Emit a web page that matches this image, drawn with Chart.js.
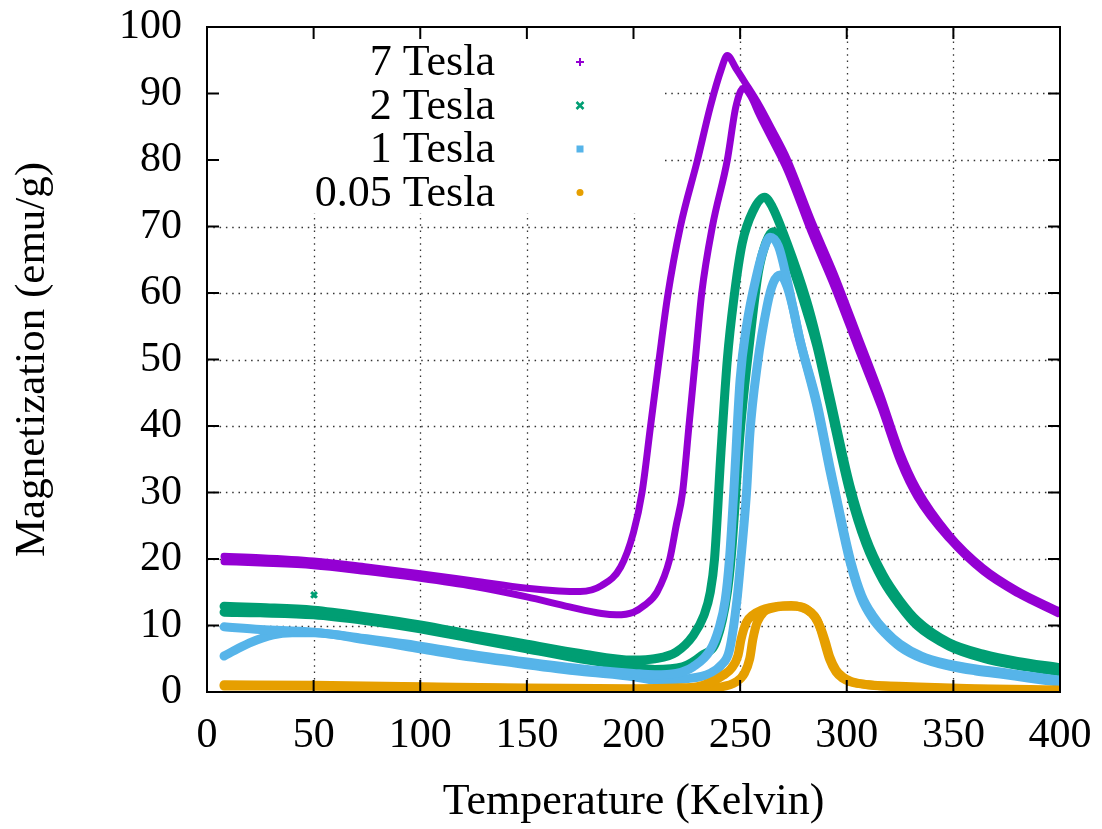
<!DOCTYPE html>
<html>
<head>
<meta charset="utf-8">
<title>Magnetization vs Temperature</title>
<script src="https://cdn.jsdelivr.net/npm/chart.js@4.4.0/dist/chart.umd.min.js"></script>
<style>
  html, body { margin: 0; padding: 0; background: #fff; }
  #wrap { width: 1102px; height: 829px; }
</style>
</head>
<body>
<div id="wrap"><canvas id="mt-chart"></canvas></div>
<script>
// M(T) loops, two sweeps per field (a = outer loop, b = inner loop)
const t7a = [8, 25, 50, 75, 100, 125, 150, 165, 175, 185, 194, 200, 204, 208, 212, 216, 222, 230, 236, 241, 244, 248, 252, 259, 265, 272, 284, 294, 306, 316, 325, 333, 348, 364, 380, 399];
const m7a = [20.4, 20.2, 19.7, 18.8, 17.8, 16.7, 15.6, 15.2, 15.1, 16.0, 18.8, 24.0, 30.0, 40.0, 50.0, 59.5, 70.0, 80.0, 88.0, 93.5, 95.7, 93.8, 91.8, 88.2, 84.6, 80.2, 70.5, 63.0, 53.0, 44.6, 36.2, 30.6, 23.7, 18.7, 15.3, 12.3];
const t7b = [8, 25, 50, 75, 100, 125, 150, 170, 185, 192, 200, 205, 211, 217, 220, 223, 226, 229, 232, 237, 244, 248, 251.5, 255, 259, 265, 272, 284, 294, 306, 316, 325, 333, 348, 364, 380, 399];
const m7b = [19.6, 19.4, 19.0, 18.1, 17.1, 15.9, 14.3, 12.8, 11.8, 11.6, 12.0, 13.0, 15.0, 20.0, 25.0, 30.0, 40.0, 50.0, 60.0, 70.0, 80.0, 88.0, 90.8, 89.6, 86.8, 83.0, 78.5, 68.6, 61.0, 51.0, 42.8, 34.6, 29.3, 23.0, 18.1, 14.8, 11.8];

const t2a = [8, 25, 50, 75, 100, 125, 150, 175, 200, 210, 220, 228, 233, 236, 238, 241, 244, 247, 251, 256, 261.5, 265, 272, 281, 286, 292, 301.5, 309, 317, 325, 333, 348, 364, 380, 399];
const m2a = [12.9, 12.7, 12.3, 11.3, 10.1, 8.6, 7.2, 5.8, 4.8, 5.0, 6.0, 8.5, 11.5, 15.0, 20.0, 36.0, 50.0, 59.0, 67.5, 72.3, 74.4, 73.0, 67.5, 59.0, 53.0, 44.5, 31.0, 23.2, 17.6, 13.7, 10.7, 7.4, 5.7, 4.6, 3.7];
const t2b = [8, 25, 50, 75, 100, 125, 150, 175, 200, 210, 223, 232, 239, 244, 246, 250, 254.6, 258.5, 262, 265.4, 270, 275, 281, 286, 292, 301.5, 309, 317, 325, 333, 348, 364, 380, 399];
const m2b = [12.0, 11.9, 11.6, 10.7, 9.5, 8.0, 6.5, 5.0, 3.8, 3.4, 3.8, 5.5, 7.8, 15.0, 21.0, 39.0, 53.0, 63.0, 67.5, 69.2, 67.3, 63.5, 57.5, 52.0, 43.5, 30.0, 22.3, 16.8, 13.0, 10.0, 6.9, 5.1, 4.0, 3.1];
const t2stray = [50.2];
const m2stray = [14.6];

const t1a = [8, 25, 50, 75, 100, 125, 150, 175, 200, 210, 220, 228, 236, 240, 243, 245, 247, 250, 253, 258, 261, 264, 268, 272, 278, 286, 292, 298, 302, 307, 312, 318, 325, 335, 348, 360, 372, 385, 399];
const m1a = [9.8, 9.4, 9.0, 8.0, 6.9, 5.6, 4.5, 3.5, 2.8, 2.6, 2.8, 3.8, 6.3, 9.5, 13.8, 20.0, 30.0, 47.0, 55.0, 63.0, 66.5, 68.4, 67.0, 62.0, 53.0, 43.5, 34.0, 25.0, 19.5, 14.5, 11.6, 9.2, 7.2, 5.4, 4.2, 3.5, 3.0, 2.4, 1.8];
const t1b = [8, 15, 20, 31, 40, 50, 75, 100, 125, 150, 175, 200, 210, 225, 236, 241, 245, 248.5, 250, 253, 254.6, 258, 262.6, 265.5, 268.7, 272, 275, 278, 286, 292, 298, 302, 307, 312, 318, 325, 335, 348, 360, 372, 385, 399];
const m1b = [5.4, 6.6, 7.4, 8.6, 8.9, 8.9, 7.8, 6.5, 5.2, 4.1, 3.1, 2.3, 1.8, 2.0, 2.8, 4.0, 6.3, 13.8, 18.8, 30.0, 39.0, 49.0, 58.0, 61.5, 62.7, 61.0, 57.5, 53.0, 43.0, 33.5, 24.5, 19.0, 14.0, 11.1, 8.8, 6.8, 5.1, 3.9, 3.2, 2.7, 2.1, 1.5];

const t005a = [8, 50, 100, 150, 200, 220, 230, 236, 242, 246, 249, 250.5, 253, 256, 260, 264, 268, 274, 279, 283, 286, 288, 290, 292, 295, 298, 302, 310, 330, 360, 399];
const m005a = [1.1, 1.0, 0.8, 0.6, 0.5, 0.6, 0.8, 1.4, 2.5, 3.6, 5.5, 8.0, 10.5, 11.6, 12.3, 12.7, 12.9, 13.0, 12.7, 12.0, 10.9, 9.2, 7.0, 4.9, 3.0, 2.1, 1.5, 1.1, 0.8, 0.5, 0.3];
const t005b = [8, 50, 100, 150, 200, 225, 240, 248, 252, 254.5, 256, 258, 261, 265, 270, 276, 281, 285, 288, 290, 292, 295, 298, 302, 310, 330, 360, 399];
const m005b = [0.9, 0.85, 0.7, 0.5, 0.35, 0.4, 0.7, 1.5, 2.8, 5.0, 8.0, 10.5, 12.0, 12.6, 12.9, 12.9, 12.5, 11.3, 9.4, 7.5, 5.3, 3.3, 2.3, 1.6, 1.1, 0.7, 0.4, 0.2];

const fieldLabels = ['7 Tesla', '2 Tesla', '1 Tesla', '0.05 Tesla'];
const fieldColors = ['#9400d3', '#009e73', '#56b4e9', '#e69f00'];
const xTicks = [0, 50, 100, 150, 200, 250, 300, 350, 400];
const yTicks = [0, 10, 20, 30, 40, 50, 60, 70, 80, 90, 100];
const xTitle = 'Temperature (Kelvin)';
const yTitle = 'Magnetization (emu/g)';

const FONT = '"Liberation Serif", "Times New Roman", serif';

const series = [
    {branches: [[t7a, m7a], [t7b, m7b]], width: 7},
    {branches: [[t2a, m2a], [t2b, m2b]], width: 9},
    {branches: [[t1a, m1a], [t1b, m1b]], width: 9},
    {branches: [[t005a, m005a], [t005b, m005b]], width: 9}
];

function pairs(ts, ms) {
    return ts.map((t, i) => ({x: t, y: ms[i]}));
}

let datasets = [];
series.forEach((s, k) => {
    s.branches.forEach(b => {
        datasets.push({
            label: fieldLabels[k],
            data: pairs(b[0], b[1]),
            showLine: true,
            borderColor: fieldColors[k],
            borderWidth: s.width,
            borderCapStyle: 'round',
            borderJoinStyle: 'round',
            cubicInterpolationMode: 'monotone',
            pointRadius: 0,
            order: series.length - k
        });
    });
});

// single outlier reading in the 2 T run
datasets.push({
    label: fieldLabels[1],
    data: pairs(t2stray, m2stray),
    showLine: false,
    pointStyle: 'crossRot',
    pointRadius: 4,
    borderWidth: 3,
    borderColor: fieldColors[1],
    order: 3
});

// key box (gnuplot blanks the grid behind it), in pixels from the top-left of the plot
const keyBox = {w: 458, h: 186};

const gnuplotFrame = {
    id: 'gnuplotFrame',
    beforeDatasetsDraw(chart) {
        const {ctx, chartArea: a, scales: {x, y}} = chart;
        const keyRight = a.left + keyBox.w;
        const keyBottom = a.top + keyBox.h;
        ctx.save();
        ctx.strokeStyle = '#333';
        ctx.lineWidth = 1.3;
        ctx.setLineDash([1.5, 4.8]);
        xTicks.slice(1, -1).forEach(v => {
            let px = Math.round(x.getPixelForValue(v)) + 0.5;
            let top = px < keyRight ? keyBottom : a.top;
            ctx.beginPath();
            ctx.moveTo(px, a.bottom);
            ctx.lineTo(px, top);
            ctx.stroke();
        });
        yTicks.slice(1, -1).forEach(v => {
            let py = Math.round(y.getPixelForValue(v)) + 0.5;
            let left = py < keyBottom ? keyRight : a.left;
            ctx.beginPath();
            ctx.moveTo(left, py);
            ctx.lineTo(a.right, py);
            ctx.stroke();
        });
        ctx.restore();
    },
    afterDatasetsDraw(chart) {
        const {ctx, chartArea: a, scales: {x, y}} = chart;
        ctx.save();
        ctx.strokeStyle = '#000';
        ctx.lineWidth = 2;
        ctx.setLineDash([]);
        ctx.strokeRect(a.left, a.top, a.right - a.left, a.bottom - a.top);

        // inward ticks on all four sides
        const tl = 12;
        ctx.beginPath();
        xTicks.forEach(v => {
            let px = x.getPixelForValue(v);
            ctx.moveTo(px, a.bottom); ctx.lineTo(px, a.bottom - tl);
            ctx.moveTo(px, a.top); ctx.lineTo(px, a.top + tl);
        });
        yTicks.forEach(v => {
            let py = y.getPixelForValue(v);
            ctx.moveTo(a.left, py); ctx.lineTo(a.left + tl, py);
            ctx.moveTo(a.right, py); ctx.lineTo(a.right - tl, py);
        });
        ctx.stroke();

        // rotated y label, centred on the plot height
        ctx.save();
        ctx.translate(44, (a.top + a.bottom) / 2);
        ctx.rotate(-Math.PI / 2);
        ctx.font = '43px ' + FONT;
        ctx.fillStyle = '#000';
        ctx.textAlign = 'center';
        ctx.textBaseline = 'alphabetic';
        ctx.fillText(yTitle, 0, 0);
        ctx.restore();

        // key: right aligned text, sample marker to the right
        const textRight = a.left + 288;
        const markX = a.left + 373;
        ctx.font = '44px ' + FONT;
        ctx.textAlign = 'right';
        ctx.textBaseline = 'alphabetic';
        fieldLabels.forEach((label, i) => {
            let base = a.top + 48 + i * 43.5;
            let my = base - 13;
            ctx.fillStyle = '#000';
            ctx.fillText(label, textRight, base);
            ctx.fillStyle = fieldColors[i];
            ctx.strokeStyle = fieldColors[i];
            ctx.beginPath();
            if (i === 0) {
                ctx.lineWidth = 2;
                ctx.moveTo(markX - 4, my); ctx.lineTo(markX + 4, my);
                ctx.moveTo(markX, my - 4); ctx.lineTo(markX, my + 4);
                ctx.stroke();
            } else if (i === 1) {
                ctx.lineWidth = 2.5;
                ctx.moveTo(markX - 3.5, my - 3.5); ctx.lineTo(markX + 3.5, my + 3.5);
                ctx.moveTo(markX + 3.5, my - 3.5); ctx.lineTo(markX - 3.5, my + 3.5);
                ctx.stroke();
            } else if (i === 2) {
                ctx.fillRect(markX - 3.5, my - 3.5, 7, 7);
            } else {
                ctx.arc(markX, my, 3.5, 0, Math.PI * 2);
                ctx.fill();
            }
        });
        ctx.restore();
    }
};

new Chart(document.getElementById('mt-chart').getContext('2d'), {
    type: 'scatter',
    data: {datasets: datasets},
    plugins: [gnuplotFrame],
    options: {
        responsive: true,
        maintainAspectRatio: false,
        animation: false,
        devicePixelRatio: 1,
        layout: {padding: {top: 27, right: 42, left: 0, bottom: 0}},
        plugins: {
            legend: {display: false},
            tooltip: {enabled: false}
        },
        scales: {
            x: {
                type: 'linear',
                min: 0,
                max: 400,
                afterBuildTicks: scale => { scale.ticks = xTicks.map(v => ({value: v})); },
                ticks: {font: {family: FONT, size: 42}, color: '#000', padding: 19, maxRotation: 0},
                grid: {display: false, drawTicks: false},
                border: {display: false},
                title: {
                    display: true,
                    text: xTitle,
                    font: {family: FONT, size: 44},
                    color: '#000',
                    padding: {top: 0, bottom: 0}
                },
                afterFit: scale => {
                    scale.height = 137;
                    scale.paddingLeft = 0;
                    scale.paddingRight = 0;
                }
            },
            y: {
                type: 'linear',
                min: 0,
                max: 100,
                afterBuildTicks: scale => { scale.ticks = yTicks.map(v => ({value: v})); },
                ticks: {font: {family: FONT, size: 42}, color: '#000', padding: 25},
                grid: {display: false, drawTicks: false},
                border: {display: false},
                title: {display: false},
                afterFit: scale => {
                    scale.width = 207;
                    scale.paddingTop = 0;
                    scale.paddingBottom = 0;
                }
            }
        }
    }
});
</script>
</body>
</html>
